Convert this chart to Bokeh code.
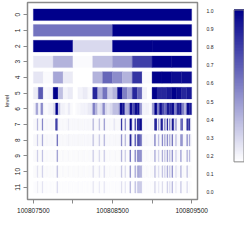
import numpy as np
from bokeh.plotting import figure
from bokeh.layouts import row
from bokeh.models import (ColumnDataSource, FixedTicker, Range1d, LinearAxis,
                          LinearColorMapper)
from bokeh.transform import transform
from bokeh.embed import file_html
from bokeh.resources import INLINE

# ---------------- data ----------------
x_start = 100807500
x_end = 100809500
levels = list(range(12))
x_ticks = [100807500, 100808000, 100808500, 100809000, 100809500]
x_labels = ["100807500", "", "100808500", "", "100809500"]
cbar_ticks = [0.0, 0.1, 0.2, 0.3, 0.4, 0.5, 0.6, 0.7, 0.8, 0.9, 1.0]
cbar_labels = ["0.0", "0.1", "0.2", "0.3", "0.4", "0.5", "0.6", "0.7", "0.8", "0.9", "1.0"]

level0 = [1.0]
level1 = [0.55, 1.0]
level2 = [1.0, 0.15, 1.0, 1.0]
level3 = [0.1, 0.3, 0.02, 0.25, 0.4, 0.75, 1.0, 1.0]
level4 = [0.1, 0.02, 0.35, 0.08, 0.0, 0.0, 0.3, 0.6,
          0.45, 0.3, 0.8, 0.02, 1.0, 1.0, 0.95, 0.95]
level5 = [0.08, 0.65, 0.03, 0.05, 1.0, 0.25, 0.05, 0.08,
          0.0, 0.05, 0.08, 0.03, 0.85, 0.3, 0.55, 0.2,
          0.3, 0.95, 0.5, 0.35, 0.85, 0.6, 0.05, 0.0,
          1.0, 0.85, 0.85, 0.9, 1.0, 0.95, 0.85, 0.9]
level6 = [0.05, 0.35, 0.05, 0.45, 0.03, 0.02, 0.05, 0.05,
          0.15, 1.0, 0.2, 0.05, 0.05, 0.03, 0.08, 0.02,
          0.0, 0.02, 0.03, 0.05, 0.05, 0.05, 0.08, 0.1,
          0.5, 0.3, 0.1, 0.15, 0.45, 0.15, 0.1, 0.15,
          0.25, 0.25, 0.3, 0.95, 0.9, 0.3, 0.35, 0.95,
          0.7, 0.95, 0.95, 0.4, 0.05, 0.05, 0.05, 0.02,
          0.4, 1.0, 0.5, 0.95, 0.7, 0.6, 0.9, 0.85,
          0.95, 0.5, 0.85, 0.9, 0.5, 0.3, 0.95, 0.9]

# finer levels: 128 bins, listed non-background bins
fine_bins = 128
level7_base = 0.03
level7_idx = [3, 7, 18, 19, 28, 48, 53, 57, 65, 71, 74, 78, 79, 82, 84, 85, 86, 87,
              98, 99, 101, 103, 104, 106, 108, 110, 112, 113, 115, 119, 120, 124, 125, 126]
level7_val = [0.3, 0.5, 0.95, 0.5, 0.08, 0.3, 0.25, 0.4, 0.1, 0.9, 0.5, 1.0, 0.8, 0.8, 1.0, 0.9, 1.0, 0.9,
              1.0, 0.9, 0.4, 0.9, 0.8, 0.6, 0.9, 0.6, 0.9, 0.8, 0.5, 0.6, 0.7, 0.9, 0.6, 0.9]
level8_base = 0.03
level8_idx = [3, 7, 19, 28, 48, 53, 57, 71, 74, 78, 79, 82, 84, 85, 86, 87,
              98, 101, 104, 106, 108, 110, 112, 115, 119, 120, 124, 126]
level8_val = [0.2, 0.35, 0.6, 0.05, 0.25, 0.2, 0.3, 0.5, 0.3, 0.9, 0.4, 0.7, 0.7, 0.8, 0.6, 0.5,
              0.6, 0.3, 0.5, 0.4, 0.5, 0.4, 0.6, 0.3, 0.5, 0.4, 0.5, 0.4]
level9_base = 0.02
level9_idx = [3, 7, 19, 48, 53, 57, 71, 74, 78, 82, 84, 85, 86, 87,
              98, 101, 104, 106, 108, 110, 112, 115, 119, 124, 126]
level9_val = [0.2, 0.25, 0.4, 0.2, 0.15, 0.2, 0.35, 0.2, 0.6, 0.5, 0.5, 0.5, 0.45, 0.4,
              0.4, 0.2, 0.35, 0.25, 0.4, 0.3, 0.45, 0.2, 0.45, 0.35, 0.3]
level10_base = 0.02
level10_idx = [3, 7, 19, 48, 53, 57, 71, 74, 78, 82, 84, 85, 86, 87,
               98, 101, 104, 106, 108, 110, 112, 115, 119, 124]
level10_val = [0.12, 0.18, 0.25, 0.15, 0.1, 0.15, 0.25, 0.15, 0.45, 0.35, 0.35, 0.4, 0.3, 0.3,
               0.3, 0.15, 0.25, 0.2, 0.35, 0.25, 0.45, 0.15, 0.35, 0.25]
level11_base = 0.01
level11_idx = [3, 7, 19, 48, 53, 57, 71, 74, 78, 82, 84, 85, 86, 87,
               98, 101, 104, 108, 110, 112, 115, 119, 124]
level11_val = [0.08, 0.12, 0.15, 0.1, 0.08, 0.1, 0.15, 0.1, 0.3, 0.25, 0.2, 0.25, 0.2, 0.2,
               0.2, 0.1, 0.15, 0.2, 0.15, 0.3, 0.1, 0.25, 0.15]


def dense(idx, val, base):
    arr = [base] * fine_bins
    for i, v in zip(idx, val):
        arr[i] = v
    return arr


all_levels = [level0, level1, level2, level3, level4, level5, level6,
              dense(level7_idx, level7_val, level7_base),
              dense(level8_idx, level8_val, level8_base),
              dense(level9_idx, level9_val, level9_base),
              dense(level10_idx, level10_val, level10_base),
              dense(level11_idx, level11_val, level11_base)]

half_h = 0.37
left, right, top, bottom, vals = [], [], [], [], []
for lv, arr in zip(levels, all_levels):
    n = len(arr)
    w = (x_end - x_start) / n
    for i, v in enumerate(arr):
        left.append(x_start + i * w)
        right.append(x_start + (i + 1) * w)
        top.append(lv - half_h)
        bottom.append(lv + half_h)
        vals.append(v)

src = ColumnDataSource(dict(left=left, right=right, top=top, bottom=bottom, val=vals))

# white -> darkblue palette
palette = []
for t in np.linspace(0, 1, 256):
    r = int(round(255 * (1 - t)))
    g = int(round(255 * (1 - t)))
    b = int(round(255 + (139 - 255) * t))
    palette.append("#%02x%02x%02x" % (r, g, b))
mapper = LinearColorMapper(palette=palette, low=0.0, high=1.0)

FONT = "Liberation Sans"
TXT = "#222222"
GRAY = "#8a8a8a"

p = figure(width=216, height=230,
           x_range=Range1d(x_start - 74, x_end + 74),
           y_range=Range1d(11.78, -0.78),
           output_backend="svg", toolbar_location=None,
           min_border_left=26, min_border_right=16,
           min_border_top=2, min_border_bottom=31,
           background_fill_color="white", border_fill_color="white")
p.outline_line_color = GRAY
p.outline_line_width = 1.5
p.grid.visible = False

p.quad(left="left", right="right", top="top", bottom="bottom", source=src,
       fill_color=transform("val", mapper), line_color=transform("val", mapper),
       line_width=0.3)

xa = p.xaxis[0]
xa.ticker = FixedTicker(ticks=x_ticks)
xa.major_label_overrides = {t: l for t, l in zip(x_ticks, x_labels)}
xa.axis_line_color = None
xa.major_tick_line_color = GRAY
xa.minor_tick_line_color = None
xa.major_tick_out = 4
xa.major_tick_in = 0
xa.major_label_standoff = 4
xa.major_label_text_font = FONT
xa.major_label_text_font_size = "6.5px"
xa.major_label_text_color = TXT

ya = p.yaxis[0]
ya.ticker = FixedTicker(ticks=levels)
ya.major_label_orientation = "vertical"
ya.axis_line_color = None
ya.major_tick_line_color = GRAY
ya.minor_tick_line_color = None
ya.major_tick_out = 4
ya.major_tick_in = 0
ya.major_label_standoff = 3
ya.major_label_text_font = FONT
ya.major_label_text_font_size = "6.5px"
ya.major_label_text_color = TXT
ya.axis_label = "level"
ya.axis_label_standoff = 3
ya.axis_label_text_font = FONT
ya.axis_label_text_font_size = "6px"
ya.axis_label_text_font_style = "normal"
ya.axis_label_text_color = TXT

# colour-bar labels on an extra axis at the right
p.extra_y_ranges = {"cb": Range1d(-0.0385, 1.044)}
cax = LinearAxis(y_range_name="cb", ticker=FixedTicker(ticks=cbar_ticks),
                 major_label_overrides={t: l for t, l in zip(cbar_ticks, cbar_labels)})
cax.axis_line_color = None
cax.major_tick_line_color = None
cax.minor_tick_line_color = None
cax.major_tick_out = 0
cax.major_tick_in = 0
cax.major_label_standoff = 9
cax.major_label_text_font = FONT
cax.major_label_text_font_size = "5px"
cax.major_label_text_color = TXT
p.add_layout(cax, "right")

# colour bar itself
grad = np.linspace(0, 1, 101)
cb_src = ColumnDataSource(dict(bottom=grad[:-1], top=grad[1:] + 0.006,
                               val=(grad[:-1] + grad[1:]) / 2))
cb = figure(width=28, height=194, x_range=Range1d(0, 28), y_range=Range1d(-0.0109, 1.049),
            output_backend="svg", toolbar_location=None, min_border=0,
            x_axis_location=None, y_axis_location=None,
            background_fill_color="white", border_fill_color="white")
cb.outline_line_color = None
cb.grid.visible = False
cb.quad(left=17.5, right=27.5, bottom="bottom", top="top", source=cb_src,
        fill_color=transform("val", mapper), line_color=None)
cb.quad(left=17.5, right=27.5, bottom=0, top=1, fill_color=None, line_color=GRAY, line_width=1)

layout = row(p, cb)
open("out.html", "w").write(file_html(layout, INLINE))
